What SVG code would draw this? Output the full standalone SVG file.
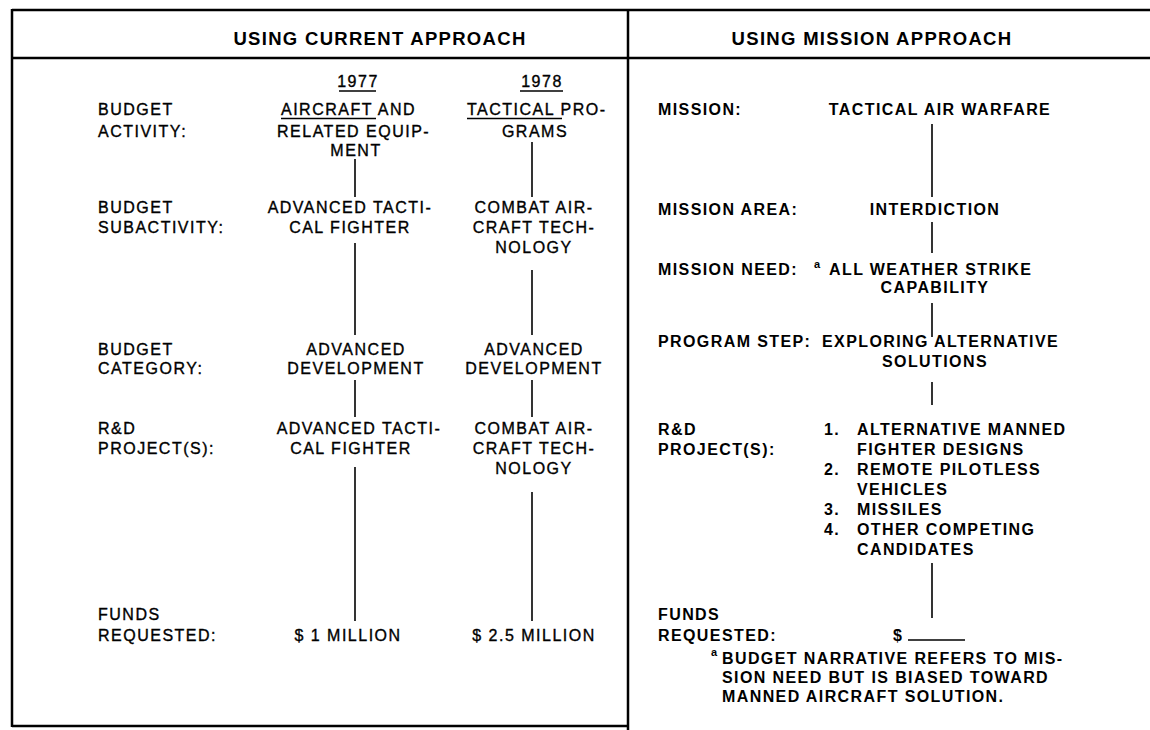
<svg xmlns="http://www.w3.org/2000/svg" width="1150" height="730" viewBox="0 0 1150 730">
<style>
.frame{stroke:#000;stroke-width:2.5;fill:none}
.con{stroke:#000;stroke-width:1.6;fill:none}
.ul{stroke:#000;stroke-width:1.4;fill:none}
text{font-family:"Liberation Sans",Arial,Helvetica,sans-serif;font-size:16px;fill:#000}
.hdr{font-size:18.5px;font-weight:bold;letter-spacing:1.3px}
.l{letter-spacing:1.5px;stroke:#000;stroke-width:0.35px}
.r{font-weight:bold;letter-spacing:1.4px}
.m{text-anchor:middle}
.sup{font-size:11px;font-weight:bold}
</style>
<rect width="1150" height="730" fill="#fff"/>
<g id="frame">
<line class="frame" x1="12" y1="10" x2="1150" y2="10"/>
<line class="frame" x1="12" y1="58" x2="1150" y2="58"/>
<line class="frame" x1="12" y1="9" x2="12" y2="727"/>
<line class="frame" x1="628" y1="9" x2="628" y2="730"/>
<line class="frame" x1="12" y1="726" x2="628" y2="726"/>
</g>
<g id="header-current"><text class="hdr m" x="380" y="45">USING CURRENT APPROACH</text></g>
<g id="header-mission"><text class="hdr m" x="872" y="45">USING MISSION APPROACH</text></g>

<g id="labels-left">
<text class="l" x="98" y="115">BUDGET</text>
<text class="l" x="98" y="137">ACTIVITY:</text>
<text class="l" x="98" y="213">BUDGET</text>
<text class="l" x="98" y="233">SUBACTIVITY:</text>
<text class="l" x="98" y="355">BUDGET</text>
<text class="l" x="98" y="374">CATEGORY:</text>
<text class="l" x="98" y="434">R&amp;D</text>
<text class="l" x="98" y="454">PROJECT(S):</text>
<text class="l" x="98" y="620">FUNDS</text>
<text class="l" x="98" y="641">REQUESTED:</text>
</g>

<g id="year-1977">
<text class="l m" x="358" y="87">1977</text>
<line class="ul" x1="339" y1="91" x2="376" y2="91"/>
</g>
<g id="year-1978">
<text class="l m" x="542" y="87">1978</text>
<line class="ul" x1="520" y1="91" x2="563" y2="91"/>
</g>

<g id="c1-activity">
<text class="l" x="281" y="115">AIRCRAFT AND</text>
<line class="ul" x1="281" y1="118.5" x2="376" y2="118.5"/>
<text class="l" x="277" y="137">RELATED EQUIP-</text>
<text class="l m" x="356" y="156">MENT</text>
</g>
<g id="c2-activity">
<text class="l" x="467" y="115">TACTICAL PRO-</text>
<line class="ul" x1="467" y1="118.5" x2="562" y2="118.5"/>
<text class="l m" x="535" y="137">GRAMS</text>
</g>

<g id="c1-subactivity">
<text class="l m" x="350" y="213">ADVANCED TACTI-</text>
<text class="l m" x="350" y="233">CAL FIGHTER</text>
</g>
<g id="c2-subactivity">
<text class="l m" x="534" y="213">COMBAT AIR-</text>
<text class="l m" x="534" y="233">CRAFT TECH-</text>
<text class="l m" x="534" y="253">NOLOGY</text>
</g>

<g id="c1-category">
<text class="l m" x="356" y="355">ADVANCED</text>
<text class="l m" x="356" y="374">DEVELOPMENT</text>
</g>
<g id="c2-category">
<text class="l m" x="534" y="355">ADVANCED</text>
<text class="l m" x="534" y="374">DEVELOPMENT</text>
</g>

<g id="c1-project">
<text class="l m" x="359" y="434">ADVANCED TACTI-</text>
<text class="l m" x="351" y="454">CAL FIGHTER</text>
</g>
<g id="c2-project">
<text class="l m" x="534" y="434">COMBAT AIR-</text>
<text class="l m" x="534" y="454">CRAFT TECH-</text>
<text class="l m" x="534" y="474">NOLOGY</text>
</g>

<g id="c1-funds"><text class="l m" x="348" y="641">$ 1 MILLION</text></g>
<g id="c2-funds"><text class="l m" x="534" y="641">$ 2.5 MILLION</text></g>

<g id="labels-right">
<text class="r" x="658" y="115">MISSION:</text>
<text class="r" x="658" y="215">MISSION AREA:</text>
<text class="r" x="658" y="275">MISSION NEED:</text>
<text class="r" x="658" y="347">PROGRAM STEP:</text>
<text class="r" x="658" y="435">R&amp;D</text>
<text class="r" x="658" y="455">PROJECT(S):</text>
<text class="r" x="658" y="620">FUNDS</text>
<text class="r" x="658" y="641">REQUESTED:</text>
</g>

<g id="m-mission"><text class="r m" x="940" y="115">TACTICAL AIR WARFARE</text></g>
<g id="m-area"><text class="r m" x="935" y="215">INTERDICTION</text></g>
<g id="m-need">
<text class="sup" x="814" y="268">a</text>
<text class="r" x="829" y="275">ALL WEATHER STRIKE</text>
<text class="r m" x="935" y="293">CAPABILITY</text>
</g>
<g id="m-step">
<text class="r" x="822" y="347">EXPLORING ALTERNATIVE</text>
<text class="r m" x="935" y="367">SOLUTIONS</text>
</g>
<g id="m-projects">
<text class="r" x="824" y="435">1.</text>
<text class="r" x="857" y="435">ALTERNATIVE MANNED</text>
<text class="r" x="857" y="455">FIGHTER DESIGNS</text>
<text class="r" x="824" y="475">2.</text>
<text class="r" x="857" y="475">REMOTE PILOTLESS</text>
<text class="r" x="857" y="495">VEHICLES</text>
<text class="r" x="824" y="515">3.</text>
<text class="r" x="857" y="515">MISSILES</text>
<text class="r" x="824" y="535">4.</text>
<text class="r" x="857" y="535">OTHER COMPETING</text>
<text class="r" x="857" y="555">CANDIDATES</text>
</g>
<g id="m-funds">
<text class="r" x="893" y="641">$</text>
<line class="ul" x1="908" y1="640" x2="965" y2="640"/>
</g>
<g id="footnote">
<text class="sup" x="711" y="656">a</text>
<text class="r" x="722" y="664">BUDGET NARRATIVE REFERS TO MIS-</text>
<text class="r" x="722" y="683">SION NEED BUT IS BIASED TOWARD</text>
<text class="r" x="722" y="702">MANNED AIRCRAFT SOLUTION.</text>
</g>

<g id="connectors">
<line class="con" x1="355" y1="159" x2="355" y2="197"/>
<line class="con" x1="532" y1="142" x2="532" y2="197"/>
<line class="con" x1="355" y1="243" x2="355" y2="335"/>
<line class="con" x1="532" y1="270" x2="532" y2="335"/>
<line class="con" x1="355" y1="380" x2="355" y2="417"/>
<line class="con" x1="532" y1="380" x2="532" y2="417"/>
<line class="con" x1="355" y1="467" x2="355" y2="621"/>
<line class="con" x1="532" y1="492" x2="532" y2="621"/>
<line class="con" x1="932" y1="124" x2="932" y2="197"/>
<line class="con" x1="932" y1="222" x2="932" y2="253"/>
<line class="con" x1="932" y1="303" x2="932" y2="337"/>
<line class="con" x1="932" y1="382" x2="932" y2="405"/>
<line class="con" x1="932" y1="563" x2="932" y2="618"/>
</g>
</svg>
